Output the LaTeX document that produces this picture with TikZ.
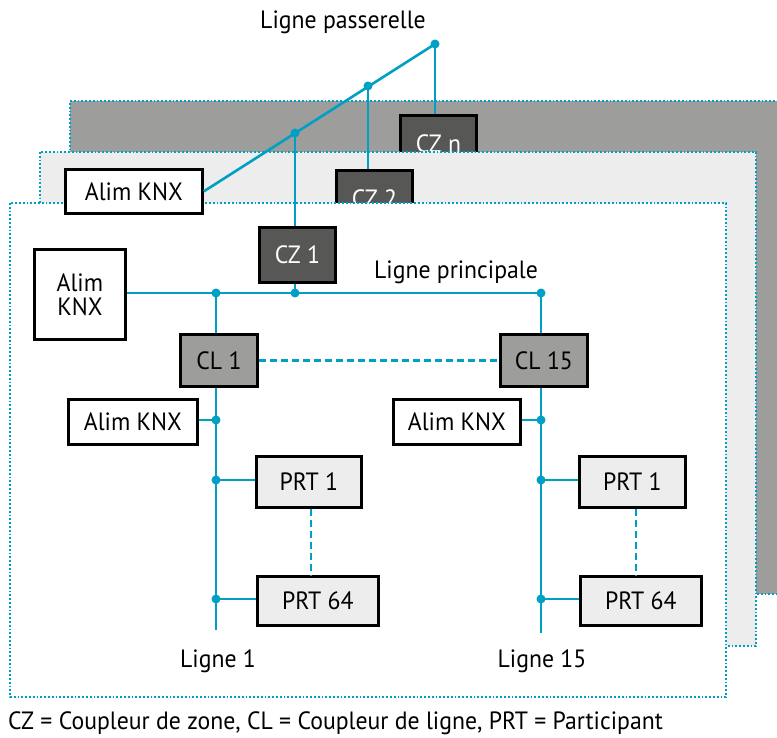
\documentclass[tikz,border=0pt]{standalone}
\usepackage{fontspec}
\setmainfont{PT Sans}[FakeStretch=0.95]
\definecolor{knxcyan}{RGB}{0,160,196}
\definecolor{darkbox}{RGB}{87,87,86}
\definecolor{midgray}{RGB}{157,157,156}
\definecolor{lightgray}{RGB}{237,237,237}
\begin{document}
\begin{tikzpicture}[x=1pt,y=-1pt,
  every node/.style={font=\fontsize{25}{26}\selectfont},
  panel/.style={draw=knxcyan, line width=1.8pt, dotted},
  bus/.style={draw=knxcyan, line width=2.6pt},
  busdash/.style={draw=knxcyan, line width=2.6pt, dash pattern=on 7pt off 4pt},
  box/.style={draw=black, line width=2.8pt, inner sep=0pt, anchor=north west},
  zbox/.style={box, fill=darkbox, text=white},
  lbox/.style={box, fill=midgray},
  pbox/.style={box, fill=lightgray},
  abox/.style={box, fill=white},
  dot/.style={circle, fill=knxcyan, inner sep=0pt, minimum size=9pt}
]
\useasboundingbox (0,0) rectangle (777,738);
\clip (0,0) rectangle (777,738);
% back panel
\fill[midgray] (70,101) rectangle (790,594);
\draw[panel] (790,101) -- (70,101) -- (70,594) -- (790,594);
\node[zbox, minimum width=76pt, minimum height=56pt] (czn) at (399,114) {CZ n};
% middle panel
\fill[lightgray] (40,152) rectangle (756,646);
\draw[panel] (40,152) rectangle (756,646);
\node[zbox, minimum width=76pt, minimum height=56pt] (cz2) at (335,169) {CZ 2};
% front panel
\fill[white] (10,203) rectangle (726,697);
\draw[panel] (10,203) rectangle (726,697);

% nodes
\node[abox, minimum width=137pt, minimum height=44pt] (alimtop) at (64,168) {Alim KNX};
\node[zbox, minimum width=76pt, minimum height=55pt] (cz1) at (258,226) {CZ 1};
\node[abox, minimum width=91pt, minimum height=90pt, align=center, font=\fontsize{25}{24}\selectfont] (alimmain) at (33,248) {Alim\\KNX};
\node[lbox, minimum width=77pt, minimum height=52pt] (cl1) at (179,333) {CL 1};
\node[lbox, minimum width=87pt, minimum height=52pt] (cl15) at (499,333) {CL 15};
\node[abox, minimum width=129pt, minimum height=45pt] (alim1) at (67,398) {Alim KNX};
\node[abox, minimum width=127pt, minimum height=45pt] (alim15) at (392,398) {Alim KNX};
\node[pbox, minimum width=105pt, minimum height=51pt] (prt1a) at (255,455) {PRT 1};
\node[pbox, minimum width=121pt, minimum height=49pt] (prt64a) at (256,575) {PRT 64};
\node[pbox, minimum width=106pt, minimum height=51pt] (prt1b) at (578,455) {PRT 1};
\node[pbox, minimum width=121pt, minimum height=49pt] (prt64b) at (579,575) {PRT 64};

% labels
\node (lpass) at (343,22) {Ligne passerelle};
\node (lprinc) at (456,272) {Ligne principale};
\node (l1) at (218,661) {Ligne 1};
\node (l15) at (542,661) {Ligne 15};
\node[anchor=west, inner sep=0pt] (legend) at (8,723) {CZ = Coupleur de zone, CL = Coupleur de ligne, PRT = Participant};

% coordinates
\coordinate (pA) at (295,133);
\coordinate (pB) at (368,86);
\coordinate (pC) at (435,44);
\coordinate (m0) at (124,293);
\coordinate (mA) at (216,293);
\coordinate (mB) at (295,293);
\coordinate (mC) at (541,293);
\coordinate (v1end) at (216,630);
\coordinate (v15end) at (541,633);
\coordinate (a1) at (216,420);
\coordinate (a15) at (541,420);
\coordinate (p1a) at (216,480);
\coordinate (p64a) at (216,599);
\coordinate (p1b) at (541,480);
\coordinate (p64b) at (541,599);

% passerelle
\draw[bus] (alimtop.east) -- (pC);
\draw[bus] (pC) -- (czn.north -| pC);
\draw[bus] (pB) -- (cz2.north -| pB);
\draw[bus] (pA) -- (cz1.north -| pA);
% principale
\draw[bus] (alimmain.east |- m0) -- (mC);
\draw[bus] (cz1.south -| mB) -- (mB);
\draw[bus] (mA) -- (cl1.north -| mA);
\draw[bus] (mC) -- (cl15.north -| mC);
% lines
\draw[bus] (cl1.south -| mA) -- (v1end);
\draw[bus] (cl15.south -| mC) -- (v15end);
\draw[bus] (alim1.east |- a1) -- (a1);
\draw[bus] (alim15.east |- a15) -- (a15);
\draw[bus] (p1a) -- (prt1a.west |- p1a);
\draw[bus] (p64a) -- (prt64a.west |- p64a);
\draw[bus] (p1b) -- (prt1b.west |- p1b);
\draw[bus] (p64b) -- (prt64b.west |- p64b);
% dashed
\draw[busdash] (cl1.east) -- (cl15.west);
\draw[busdash] (prt1a.south -| 311,0) -- (prt64a.north -| 311,0);
\draw[busdash] (prt1b.south -| 636,0) -- (prt64b.north -| 636,0);

% dots
\foreach \p in {pA,pB,pC,mA,mB,mC,a1,a15,p1a,p64a,p1b,p64b}
  \node[dot] at (\p) {};
\end{tikzpicture}
\end{document}
